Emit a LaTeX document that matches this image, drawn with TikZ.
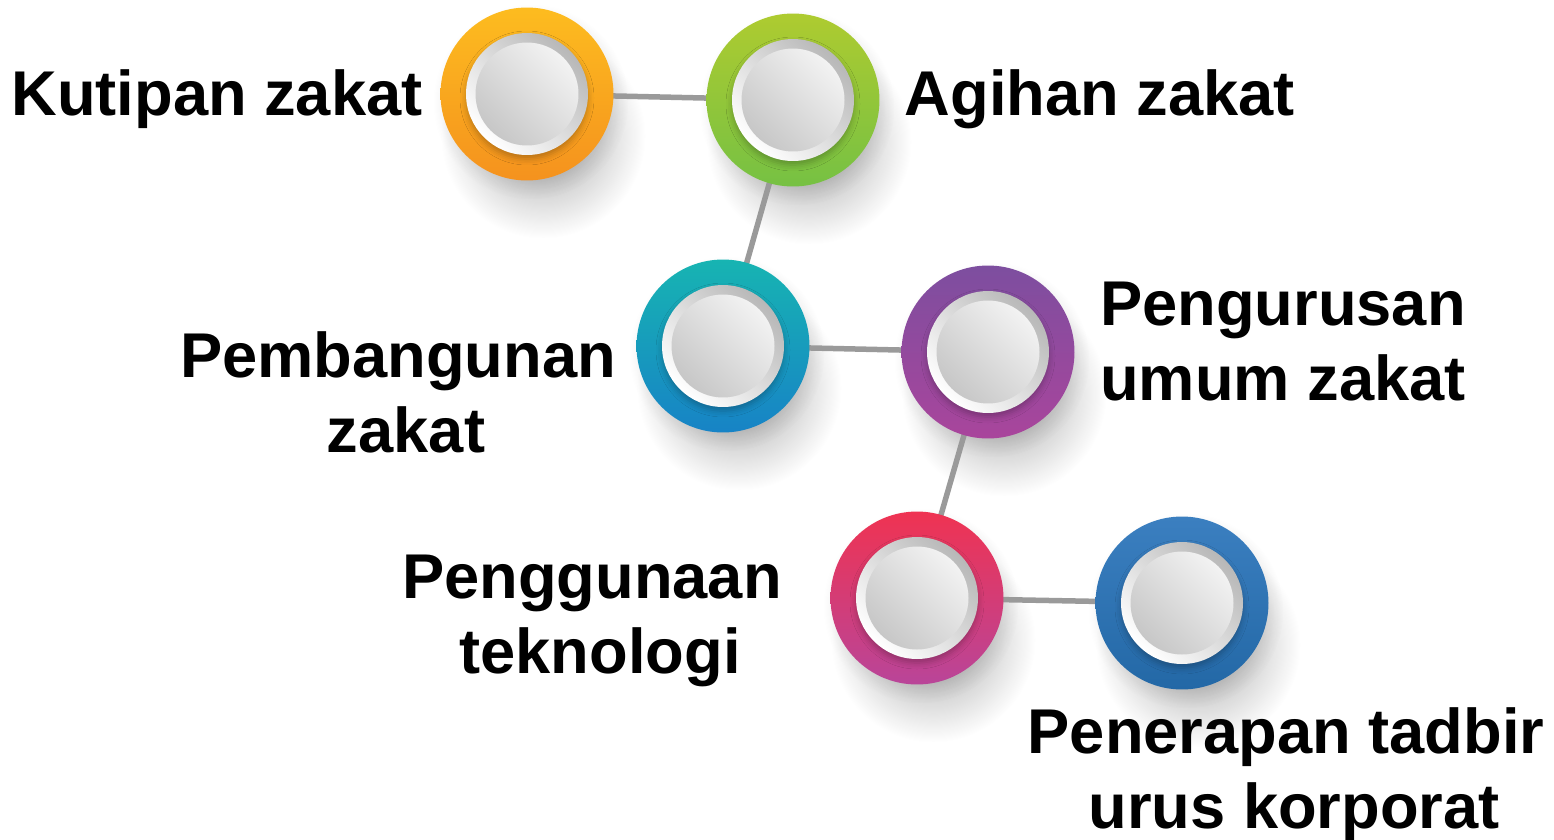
\documentclass[tikz,border=0pt]{standalone}
\usepackage{fontspec}
\setmainfont{Liberation Sans}
\usetikzlibrary{shadows.blur,fadings}

\definecolor{orangetop}{HTML}{FDBC1F}
\definecolor{orangebot}{HTML}{F5921E}
\definecolor{greentop}{HTML}{AECB30}
\definecolor{greenbot}{HTML}{76C143}
\definecolor{tealtop}{HTML}{17B4B2}
\definecolor{tealbot}{HTML}{1783C6}
\definecolor{purpletop}{HTML}{7D4E9F}
\definecolor{purplebot}{HTML}{A9459C}
\definecolor{pinktop}{HTML}{EF3352}
\definecolor{pinkbot}{HTML}{B94599}
\definecolor{bluetop}{HTML}{3B7FC0}
\definecolor{bluebot}{HTML}{2368A6}
\definecolor{linkgray}{HTML}{9A9A9A}

\tikzfading[name=softshadow,inner color=transparent!25,outer color=transparent!100]
\newcommand{\nudge}{\hspace*{0.32cm}}

\tikzset{
  castshadow/.style={fill=black,fill opacity=0.48,path fading=softshadow},
  contactshadow/.style={fill=black,fill opacity=0.55,path fading=softshadow},
  disc/.style={circle,draw=none,inner sep=0pt,minimum size=3.46cm},
  ring/.style={circle,draw=none,inner sep=0pt,minimum size=2.44cm,
    top color=black!28,bottom color=white,shading angle=-45,
    blur shadow={shadow xshift=0pt,shadow yshift=-0.08cm,
      shadow blur radius=0.12cm,shadow opacity=25}},
  knob/.style={circle,draw=none,inner sep=0pt,minimum size=2.06cm,
    top color=black!5,bottom color=black!22,shading angle=-45},
  link/.style={linkgray,line width=0.11cm},
  lbl/.style={font=\bfseries\fontsize{36}{42.5}\selectfont,
    align=center,inner sep=0pt,anchor=base}
}

\begin{document}
\begin{tikzpicture}[x=0.02cm,y=-0.02cm]
  \useasboundingbox (0,0) rectangle (1554,839);

  % Centres of the six steps
  \coordinate (kutipan) at (527,94);
  \coordinate (agihan) at (793,100);
  \coordinate (pembangunan) at (723,346);
  \coordinate (pengurusan) at (988,352);
  \coordinate (teknologi) at (917,598);
  \coordinate (tadbir) at (1182,603);

  % Soft shadows under the discs
  \foreach \c in {kutipan,agihan,pembangunan,pengurusan,teknologi,tadbir}{
    \path[castshadow] ([shift={(16,42)}]\c) circle[radius=2.05cm];
    \path[contactshadow] ([shift={(4,8)}]\c) circle[radius=1.95cm];
  }

  % Connectors
  \draw[link] (kutipan) -- (agihan) -- (pembangunan) -- (pengurusan)
    -- (teknologi) -- (tadbir);

  % Coloured discs
  \node[disc,top color=orangetop,bottom color=orangebot] (kutipan-disc) at (kutipan) {};
  \node[disc,top color=greentop,bottom color=greenbot] (agihan-disc) at (agihan) {};
  \node[disc,top color=tealtop,bottom color=tealbot] (pembangunan-disc) at (pembangunan) {};
  \node[disc,top color=purpletop,bottom color=purplebot] (pengurusan-disc) at (pengurusan) {};
  \node[disc,top color=pinktop,bottom color=pinkbot] (teknologi-disc) at (teknologi) {};
  \node[disc,top color=bluetop,bottom color=bluebot] (tadbir-disc) at (tadbir) {};

  % White rings and grey knobs
  \foreach \c in {kutipan,agihan,pembangunan,pengurusan,teknologi,tadbir}{
    \node[ring] (\c-ring) at (\c) {};
    \node[knob] (\c-knob) at (\c) {};
  }

  % Labels
  \node[lbl] (kutipan-lbl) at (217,115) {Kutipan zakat};
  \node[lbl] (agihan-lbl) at (1100,115) {Agihan zakat};
  \node[lbl] (pembangunan-lbl) at (398,452) {Pembangunan\\\nudge zakat};
  \node[lbl] (pengurusan-lbl) at (1283,400) {Pengurusan\\umum zakat};
  \node[lbl] (teknologi-lbl) at (592,673) {Penggunaan\\\nudge teknologi};
  \node[lbl] (tadbir-lbl) at (1286,828) {Penerapan tadbir\\\nudge urus korporat};
\end{tikzpicture}
\end{document}
